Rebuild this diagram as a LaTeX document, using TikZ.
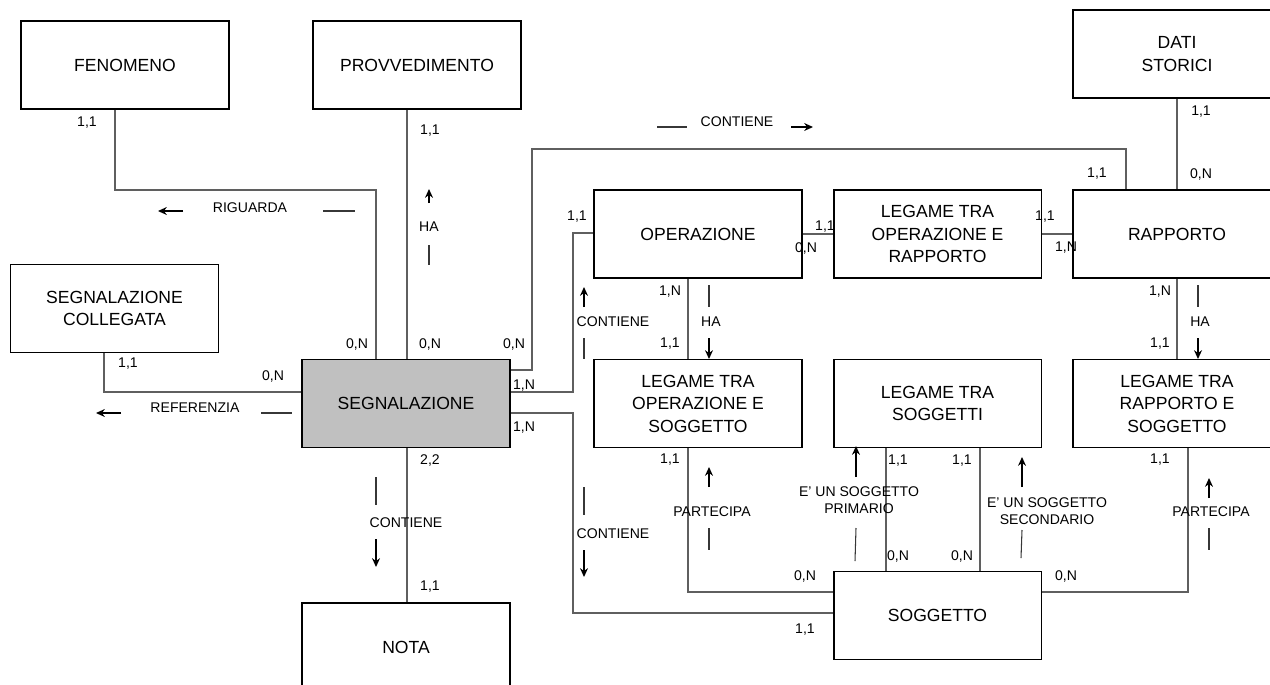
\documentclass[tikz,border=0pt]{standalone}
\usepackage{fontspec}
\setmainfont{Liberation Sans}
\usepackage{tikz}
\definecolor{entityfill}{RGB}{192,192,192}
\definecolor{linkgray}{RGB}{95,95,95}
\definecolor{dashgray}{RGB}{55,55,55}
\usetikzlibrary{arrows.meta}

\begin{document}
\begin{tikzpicture}[x=0.02cm,y=-0.02cm,
        entity/.style={draw,line width=1.1pt,minimum width=4.16cm,minimum height=1.76cm,inner sep=0pt,align=center,font=\fontsize{10}{12.8}\selectfont},
        link/.style={draw=linkgray,line width=0.8pt},
        card/.style={inner sep=0pt,font=\fontsize{8}{9.6}\selectfont},
        verb/.style={inner sep=0pt,align=center,font=\fontsize{8}{10}\selectfont},
        dirarrow/.style={line width=1pt,-{Stealth[length=5pt,width=4.5pt]}},
        dirline/.style={draw=dashgray,line width=0.6pt}]
        \useasboundingbox (0,0) rectangle (1270,684);
        \clip (0,0) rectangle (1270,684);

        \node[entity] (fenomeno) at (125,65) {FENOMENO};
        \node[entity] (provv) at (417,65) {PROVVEDIMENTO};
        \node[entity] (dati) at (1177,54) {DATI\\STORICI};
        \node[entity] (segncoll) at (114.5,308.5) {SEGNALAZIONE\\COLLEGATA};
        \node[entity,fill=entityfill] (segn) at (406,403.5) {SEGNALAZIONE};
        \node[entity] (nota) at (406,647) {NOTA};
        \node[entity] (operazione) at (698,234) {OPERAZIONE};
        \node[entity] (legopr) at (937.5,234) {LEGAME TRA\\OPERAZIONE E\\RAPPORTO};
        \node[entity] (rapporto) at (1177,234) {RAPPORTO};
        \node[entity] (legops) at (698,403.5) {LEGAME TRA\\OPERAZIONE E\\SOGGETTO};
        \node[entity] (legsogg) at (937.5,403.5) {LEGAME TRA\\SOGGETTI};
        \node[entity] (legrs) at (1177,403.5) {LEGAME TRA\\RAPPORTO E\\SOGGETTO};
        \node[entity] (soggetto) at (937.5,615.5) {SOGGETTO};

        \draw[link] (115,0 |- fenomeno.south) -- (115,190) -| (376,0 |- segn.north);
        \draw[link] (407,0 |- provv.south) -- (407,0 |- segn.north);
        \draw[link] (104,0 |- segncoll.south) |- (segn.west |- 0,392);
        \draw[link] (segn.east |- 0,370) -| (532,149) -| (1126,0 |- rapporto.north);
        \draw[link] (segn.east |- 0,392) -| (573,233) -- (operazione.west |- 0,233);
        \draw[link] (segn.east |- 0,413) -| (573,613) -- (soggetto.west |- 0,613);
        \draw[link] (407,0 |- segn.south) -- (407,0 |- nota.north);
        \draw[link] (operazione) -- (legopr);
        \draw[link] (legopr) -- (rapporto);
        \draw[link] (dati) -- (rapporto);
        \draw[link] (688,0 |- operazione.south) -- (688,0 |- legops.north);
        \draw[link] (rapporto) -- (legrs);
        \draw[link] (688,0 |- legops.south) |- (soggetto.west |- 0,592);
        \draw[link] (886,0 |- legsogg.south) -- (886,0 |- soggetto.north);
        \draw[link] (980,0 |- legsogg.south) -- (980,0 |- soggetto.north);
        \draw[link] (1188,0 |- legrs.south) |- (soggetto.east |- 0,592);

        \node[card] (c-fen) at (87,123) {1,1};
        \node[card] (c-segn-fen) at (357,344) {0,N};
        \node[card] (c-provv) at (430,131) {1,1};
        \node[card] (c-segn-provv) at (430,344) {0,N};
        \node[card] (c-segn-rapp) at (514,344) {0,N};
        \node[card] (c-segn-op) at (524,386) {1,N};
        \node[card] (c-segn-sogg) at (524,428) {1,N};
        \node[card] (c-coll) at (128,364) {1,1};
        \node[card] (c-segn-coll) at (273,376) {0,N};
        \node[card] (c-segn-nota) at (430,460) {2,2};
        \node[card] (c-nota) at (430,587) {1,1};
        \node[card] (c-op-segn) at (577,217) {1,1};
        \node[card] (c-legopr-op) at (825,227) {1,1};
        \node[card] (c-op-legopr) at (806,248) {0,N};
        \node[card] (c-legopr-rapp) at (1045,217) {1,1};
        \node[card] (c-rapp-legopr) at (1066,248) {1,N};
        \node[card] (c-rapp-segn) at (1097,174) {1,1};
        \node[card] (c-dati) at (1201,112) {1,1};
        \node[card] (c-rapp-dati) at (1201,174) {0,N};
        \node[card] (c-op-legops) at (670,292) {1,N};
        \node[card] (c-legops-op) at (670,344) {1,1};
        \node[card] (c-rapp-legrs) at (1160,292) {1,N};
        \node[card] (c-legrs-rapp) at (1160,344) {1,1};
        \node[card] (c-legops-sogg) at (670,460) {1,1};
        \node[card] (c-legsogg-a) at (898,461) {1,1};
        \node[card] (c-legsogg-b) at (962,461) {1,1};
        \node[card] (c-sogg-a) at (898,556) {0,N};
        \node[card] (c-sogg-b) at (962,556) {0,N};
        \node[card] (c-legrs-sogg) at (1160,460) {1,1};
        \node[card] (c-sogg-legops) at (805,576) {0,N};
        \node[card] (c-sogg-legrs) at (1066,576) {0,N};
        \node[card] (c-sogg-segn) at (805,630) {1,1};

        \node[verb] (riguarda) at (250,208) {RIGUARDA};
        \draw[dirarrow] ([shift={(-67,3)}]riguarda.center) -- ++(-25,0);
        \draw[dirline] ([shift={(73,3)}]riguarda.center) -- ++(32,0);

        \node[verb] (referenzia) at (195,408) {REFERENZIA};
        \draw[dirarrow] ([shift={(-74,5)}]referenzia.center) -- ++(-25,0);
        \draw[dirline] ([shift={(66,5)}]referenzia.center) -- ++(31,0);

        \node[verb] (ha-provv) at (429,227) {HA};
        \draw[dirarrow] ([shift={(0,-24)}]ha-provv.center) -- ++(0,-14);
        \draw[dirline] ([shift={(0,18)}]ha-provv.center) -- ++(0,20);

        \node[verb] (cont-rapp) at (737,122) {CONTIENE};
        \draw[dirline] ([shift={(-80,5)}]cont-rapp.center) -- ++(30,0);
        \draw[dirarrow] ([shift={(54,5)}]cont-rapp.center) -- ++(22,0);

        \node[verb] (cont-op) at (613,322) {CONTIENE};
        \draw[dirarrow] ([shift={(-29,-15)}]cont-op.center) -- ++(0,-20);
        \draw[dirline] ([shift={(-29,16)}]cont-op.center) -- ++(0,21);

        \node[verb] (cont-sogg) at (613,534) {CONTIENE};
        \draw[dirline] ([shift={(-29,-47)}]cont-sogg.center) -- ++(0,28);
        \draw[dirarrow] ([shift={(-29,16)}]cont-sogg.center) -- ++(0,27);

        \node[verb] (cont-nota) at (406,523) {CONTIENE};
        \draw[dirline] ([shift={(-30,-46)}]cont-nota.center) -- ++(0,28);
        \draw[dirarrow] ([shift={(-30,16)}]cont-nota.center) -- ++(0,28);

        \node[verb] (ha-op) at (711,322) {HA};
        \draw[dirline] ([shift={(-2,-37)}]ha-op.center) -- ++(0,22);
        \draw[dirarrow] ([shift={(-2,16)}]ha-op.center) -- ++(0,21);

        \node[verb] (ha-rapp) at (1200,322) {HA};
        \draw[dirline] ([shift={(-2,-37)}]ha-rapp.center) -- ++(0,22);
        \draw[dirarrow] ([shift={(-2,16)}]ha-rapp.center) -- ++(0,21);

        \node[verb] (part-op) at (712,512) {PARTECIPA};
        \draw[dirarrow] ([shift={(-3,-25)}]part-op.center) -- ++(0,-20);
        \draw[dirline] ([shift={(-3,16)}]part-op.center) -- ++(0,22);

        \node[verb] (part-rapp) at (1211,512) {PARTECIPA};
        \draw[dirarrow] ([shift={(-2,-14)}]part-rapp.center) -- ++(0,-20);
        \draw[dirline] ([shift={(-2,16)}]part-rapp.center) -- ++(0,22);

        \node[verb] (primario) at (859,500) {E' UN SOGGETTO\\PRIMARIO};
        \draw[dirarrow] ([shift={(-3,-23)}]primario.center) -- ++(0,-31);
        \draw[dirline] ([shift={(-3,28)}]primario.center) -- ++(-1,33);

        \node[verb] (secondario) at (1047,511) {E' UN SOGGETTO\\SECONDARIO};
        \draw[dirarrow] ([shift={(-25,-24)}]secondario.center) -- ++(0,-30);
        \draw[dirline] ([shift={(-25,19)}]secondario.center) -- ++(-1,28);
\end{tikzpicture}
\end{document}
